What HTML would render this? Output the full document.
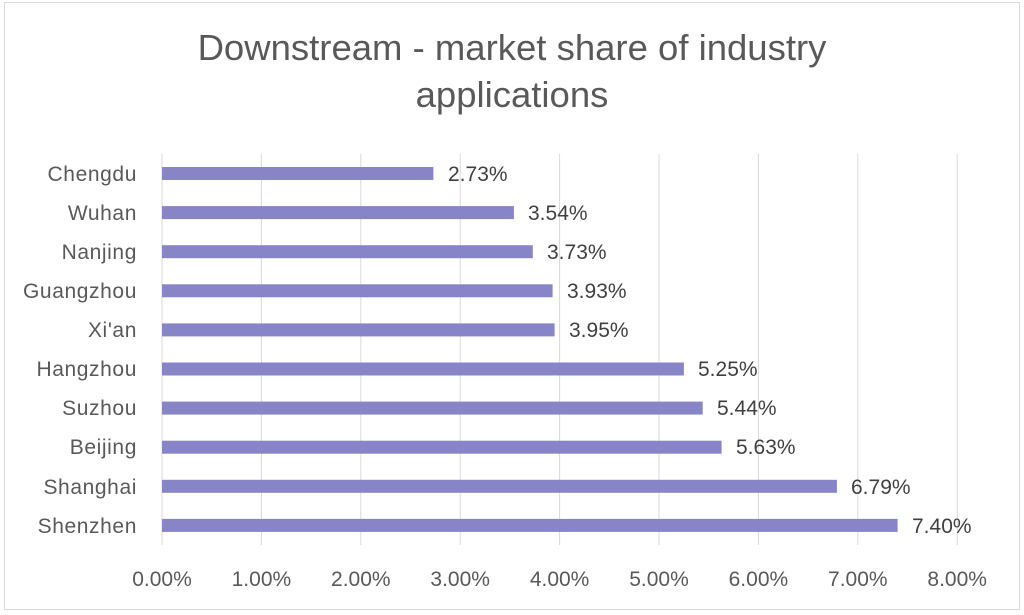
<!DOCTYPE html>
<html><head><meta charset="utf-8"><style>
html,body{margin:0;padding:0;background:#fff;}
svg{display:block;font-family:"Liberation Sans",sans-serif;}
</style></head><body>
<svg width="1024" height="615" viewBox="0 0 1024 615">
<rect x="4.5" y="2.5" width="1015" height="607" fill="#fff" stroke="#d9d9d9"/>
<text x="512" y="60" font-size="36.5" fill="#595959" text-anchor="middle">Downstream - market share of industry</text>
<text x="512" y="107" font-size="36.5" fill="#595959" text-anchor="middle">applications</text>
<g stroke="#d9d9d9" stroke-width="1">
<line x1="162" y1="154" x2="162" y2="545"/><line x1="261.4" y1="154" x2="261.4" y2="545"/><line x1="360.8" y1="154" x2="360.8" y2="545"/><line x1="460.2" y1="154" x2="460.2" y2="545"/><line x1="559.6" y1="154" x2="559.6" y2="545"/><line x1="659" y1="154" x2="659" y2="545"/><line x1="758.4" y1="154" x2="758.4" y2="545"/><line x1="857.8" y1="154" x2="857.8" y2="545"/><line x1="957.2" y1="154" x2="957.2" y2="545"/>
</g>
<g font-size="21" fill="#595959" text-anchor="middle">
<text x="162" y="586">0.00%</text><text x="261.4" y="586">1.00%</text><text x="360.8" y="586">2.00%</text><text x="460.2" y="586">3.00%</text><text x="559.6" y="586">4.00%</text><text x="659" y="586">5.00%</text><text x="758.4" y="586">6.00%</text><text x="857.8" y="586">7.00%</text><text x="957.2" y="586">8.00%</text>
</g>
<g fill="#8884c8">
<rect x="162" y="167" width="271.4" height="13"/>
<rect x="162" y="206.1" width="351.9" height="13"/>
<rect x="162" y="245.2" width="370.8" height="13"/>
<rect x="162" y="284.3" width="390.6" height="13"/>
<rect x="162" y="323.4" width="392.6" height="13"/>
<rect x="162" y="362.5" width="521.9" height="13"/>
<rect x="162" y="401.6" width="540.7" height="13"/>
<rect x="162" y="440.7" width="559.6" height="13"/>
<rect x="162" y="479.8" width="674.9" height="13"/>
<rect x="162" y="518.9" width="735.6" height="13"/>
</g>
<g font-size="21" fill="#404040">
<text x="448" y="181">2.73%</text>
<text x="528" y="220">3.54%</text>
<text x="547" y="259">3.73%</text>
<text x="567" y="298">3.93%</text>
<text x="569" y="337">3.95%</text>
<text x="698" y="376">5.25%</text>
<text x="717" y="415">5.44%</text>
<text x="736" y="454">5.63%</text>
<text x="851" y="494">6.79%</text>
<text x="912" y="533">7.40%</text>
</g>
<g font-size="21" fill="#595959" text-anchor="end" letter-spacing="0.6">
<text x="137" y="181">Chengdu</text>
<text x="137" y="220">Wuhan</text>
<text x="137" y="259">Nanjing</text>
<text x="137" y="298">Guangzhou</text>
<text x="137" y="337">Xi'an</text>
<text x="137" y="376">Hangzhou</text>
<text x="137" y="415">Suzhou</text>
<text x="137" y="454">Beijing</text>
<text x="137" y="494">Shanghai</text>
<text x="137" y="533">Shenzhen</text>
</g>
</svg>
</body></html>
